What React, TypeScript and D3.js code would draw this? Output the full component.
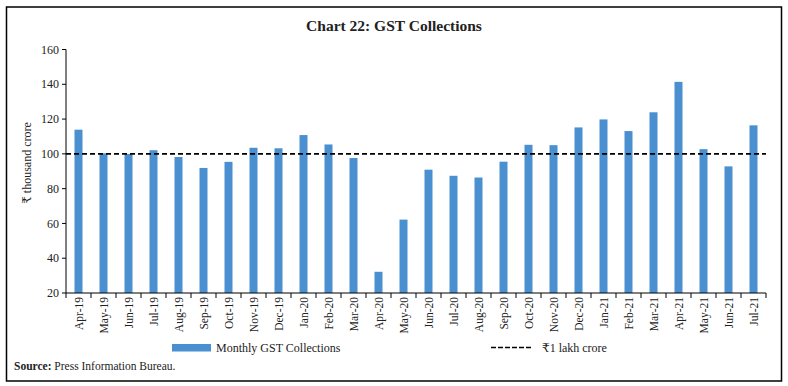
import React from "react";
import * as d3 from "d3";

const months = ["Apr-19","May-19","Jun-19","Jul-19","Aug-19","Sep-19","Oct-19","Nov-19","Dec-19","Jan-20","Feb-20","Mar-20","Apr-20","May-20","Jun-20","Jul-20","Aug-20","Sep-20","Oct-20","Nov-20","Dec-20","Jan-21","Feb-21","Mar-21","Apr-21","May-21","Jun-21","Jul-21"];
const gst = [113.9,100.3,99.9,102.1,98.2,91.9,95.4,103.5,103.2,110.8,105.4,97.6,32.2,62.2,90.9,87.4,86.4,95.5,105.2,105.0,115.2,119.8,113.1,123.9,141.4,102.7,92.8,116.4];
const yTicks = [20,40,60,80,100,120,140,160];
const refValue = 100;

const W = 788, H = 386;
const left = 66, right = 766, top = 49.5, bottom = 293;
const FONT = "'Liberation Serif', 'DejaVu Serif', serif";

export default function App() {
  const x = d3.scaleBand().domain(months).range([left, right]).paddingInner(0.68).paddingOuter(0.34);
  const xb = d3.scaleBand().domain(months).range([left, right]);
  const y = d3.scaleLinear().domain([20, 160]).range([bottom, top]);
  return (
    <svg width={W} height={H} style={{ position: "absolute", left: 0, top: 0, background: "#fff" }} fontFamily={FONT}>
      <rect x={6.5} y={7} width={775} height={374} fill="#fff" stroke="#000" strokeWidth={1.5} />
      <text x={394} y={31} textAnchor="middle" fontSize={15.5} fontWeight="bold" fill="#222">Chart 22: GST Collections</text>
      {gst.map((v, i) => (
        <rect key={months[i]} x={x(months[i])} y={y(v)} width={x.bandwidth()} height={y(20) - y(v)} fill="#4a90d0" />
      ))}
      <line x1={left} x2={right} y1={y(refValue)} y2={y(refValue)} stroke="#000" strokeWidth={1.6} strokeDasharray="5,3" />
      <line x1={left} x2={left} y1={top} y2={bottom} stroke="#000" strokeWidth={1} />
      <line x1={left} x2={right} y1={bottom} y2={bottom} stroke="#000" strokeWidth={1} />
      {yTicks.map(t => (
        <g key={t}>
          <line x1={left - 4} x2={left} y1={y(t)} y2={y(t)} stroke="#000" />
          <text x={left - 7} y={y(t)} dy="0.35em" textAnchor="end" fontSize={12} fill="#222">{t}</text>
        </g>
      ))}
      {months.map((m, i) => (
        <line key={"t" + m} x1={(xb(m) as number)} x2={(xb(m) as number)} y1={bottom} y2={bottom + 5} stroke="#000" />
      ))}
      <line x1={right} x2={right} y1={bottom} y2={bottom + 5} stroke="#000" />
      {months.map(m => {
        const cx = (xb(m) as number) + xb.bandwidth() / 2;
        return (
          <text key={"l" + m} transform={`translate(${cx + 4},${bottom + 4}) rotate(-90)`} textAnchor="end" fontSize={11.5} fill="#222">{m}</text>
        );
      })}
      <text transform={`translate(31,163) rotate(-90)`} textAnchor="middle" fontSize={12} fill="#222">₹ thousand crore</text>
      <rect x={172} y={344} width={39} height={7.5} fill="#4a90d0" />
      <text x={216} y={352} fontSize={12} fill="#222">Monthly GST Collections</text>
      <line x1={491} x2={531} y1={347.5} y2={347.5} stroke="#000" strokeWidth={1.6} strokeDasharray="5,2" />
      <text x={542} y={352} fontSize={12} fill="#222">₹1 lakh crore</text>
      <text x={14} y={370} fontSize={11.5} fill="#222"><tspan fontWeight="bold">Source:</tspan> Press Information Bureau.</text>
    </svg>
  );
}
